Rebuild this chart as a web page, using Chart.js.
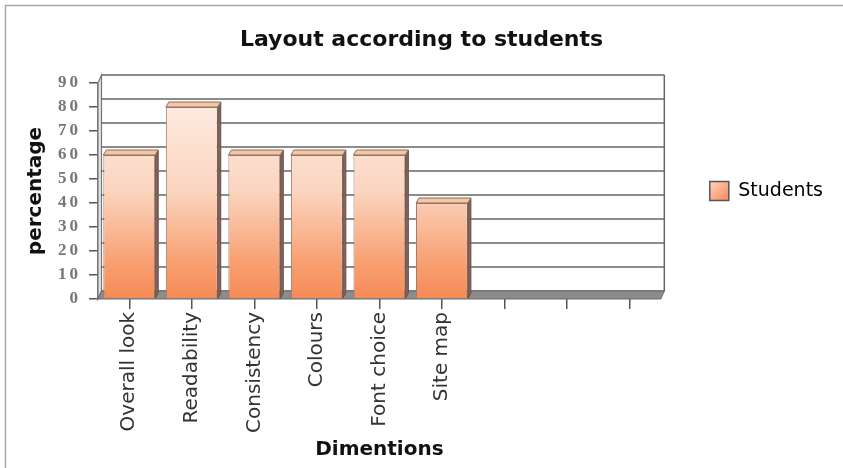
<!DOCTYPE html>
<html>
<head>
<meta charset="utf-8">
<title>Layout according to students</title>
<script src="https://cdn.jsdelivr.net/npm/chart.js@4"></script>
<style>
    html, body { margin: 0; padding: 0; background: #fff; }
    #wrap { position: relative; width: 843px; height: 468px; }
</style>
</head>
<body>
<div id="wrap"><canvas id="layoutChart"></canvas></div>
<script>
// Survey data
const dimensions = ['Overall look', 'Readability', 'Consistency', 'Colours', 'Font choice', 'Site map', '', '', ''];
const studentShares = [60, 80, 60, 60, 60, 40, null, null, null];
const seriesName = 'Students';
const yMin = 0;
const yMax = 90;
const yStep = 10;

// fake 3D offsets: back wall and bar depth
const WALL = [3.5, -8];
const BAR = [3, -5];

const colors = {
    barTop: '#fdf0e8',
    barMid: '#fbd5c0',
    barLow: '#f8a174',
    barBottom: '#f58a55',
    barEdge: '#9c7d70',
    barSide: '#82635a',
    barCap: '#f7c7a4',
    grid: '#666666',
    floor: '#8c8c8c',
    frame: '#a8a8a8'
};

function barFill(ctx) {
    const area = ctx.chart.chartArea;
    if (!area) return colors.barMid;
    const g = ctx.chart.ctx.createLinearGradient(0, area.top, 0, area.bottom);
    g.addColorStop(0, colors.barTop);
    g.addColorStop(0.5, colors.barMid);
    g.addColorStop(0.82, colors.barLow);
    g.addColorStop(1, colors.barBottom);
    return g;
}

function poly(ctx, pts, fill, stroke, lw) {
    ctx.beginPath();
    ctx.moveTo(pts[0][0], pts[0][1]);
    for (let i = 1; i < pts.length; i++) ctx.lineTo(pts[i][0], pts[i][1]);
    ctx.closePath();
    if (fill) { ctx.fillStyle = fill; ctx.fill(); }
    if (stroke) { ctx.strokeStyle = stroke; ctx.lineWidth = lw || 1; ctx.stroke(); }
}

const chart3d = {
    id: 'chart3d',
    beforeDraw(chart) {
        const ctx = chart.ctx;
        // thin frame on the top and left of the picture
        ctx.save();
        ctx.strokeStyle = colors.frame;
        ctx.lineWidth = 1.5;
        ctx.beginPath();
        ctx.moveTo(5.5, chart.height);
        ctx.lineTo(5.5, 5.5);
        ctx.lineTo(chart.width, 5.5);
        ctx.stroke();
        ctx.restore();

        // wider spacing for the serif y tick labels
        const y = chart.scales.y;
        if (y && !y._spaced) {
            const drawLabels = y.drawLabels.bind(y);
            y.drawLabels = area => {
                chart.ctx.save();
                chart.ctx.letterSpacing = '3px';
                drawLabels(area);
                chart.ctx.restore();
            };
            y._spaced = true;
        }
    },
    beforeDatasetsDraw(chart) {
        const { ctx, chartArea: a, scales: { y } } = chart;
        const [dx, dy] = WALL;
        ctx.save();

        // left wall
        poly(ctx, [[a.left, a.top], [a.left + dx, a.top + dy], [a.left + dx, a.bottom + dy], [a.left, a.bottom]], '#e4e4e4', '#777', 1.2);

        // back wall grid lines
        ctx.strokeStyle = colors.grid;
        ctx.lineWidth = 1.5;
        y.ticks.forEach(t => {
            const py = y.getPixelForValue(t.value) + dy;
            ctx.beginPath();
            ctx.moveTo(a.left + dx, py);
            ctx.lineTo(a.right + dx, py);
            ctx.stroke();
        });
        // right edge of the back wall
        ctx.beginPath();
        ctx.moveTo(a.right + dx, a.top + dy);
        ctx.lineTo(a.right + dx, a.bottom + dy);
        ctx.stroke();

        // floor
        poly(ctx, [[a.left, a.bottom], [a.left + dx, a.bottom + dy], [a.right + dx, a.bottom + dy], [a.right, a.bottom]], colors.floor, '#6a6a6a', 1);
        ctx.restore();
    },
    afterDatasetsDraw(chart) {
        const ctx = chart.ctx;
        const [dx, dy] = BAR;
        const meta = chart.getDatasetMeta(0);
        ctx.save();
        meta.data.forEach((bar, i) => {
            if (studentShares[i] == null) return;
            const { x, y, width, base } = bar.getProps(['x', 'y', 'width', 'base'], true);
            const l = x - width / 2;
            const r = x + width / 2;
            // side face
            poly(ctx, [[r, y], [r + dx, y + dy], [r + dx, base + dy], [r, base]], colors.barSide, '#6b5048', 1);
            // top face
            poly(ctx, [[l, y], [l + dx, y + dy], [r + dx, y + dy], [r, y]], colors.barCap, '#8a6d60', 1);
        });
        ctx.restore();
    }
};

document.addEventListener('DOMContentLoaded', () => {
    const ctx = document.getElementById('layoutChart').getContext('2d');

    const legendFill = ctx.createLinearGradient(709, 176, 728, 195);
    legendFill.addColorStop(0, '#fde3d3');
    legendFill.addColorStop(1, '#f69566');

    new Chart(ctx, {
        type: 'bar',
        data: {
            labels: dimensions,
            datasets: [{
                label: seriesName,
                data: studentShares,
                backgroundColor: barFill,
                borderColor: colors.barEdge,
                borderWidth: 1,
                categoryPercentage: 1,
                barPercentage: 0.83
            }]
        },
        options: {
            responsive: true,
            maintainAspectRatio: false,
            animation: false,
            layout: { padding: { left: 10, right: 10, top: 0, bottom: 0 } },
            plugins: {
                title: {
                    display: true,
                    text: 'Layout according to students',
                    color: '#111',
                    font: { family: "'DejaVu Sans', sans-serif", size: 22, weight: 'bold' },
                    padding: { top: 27, bottom: 29.6 }
                },
                legend: {
                    position: 'right',
                    fullSize: false,
                    labels: {
                        boxWidth: 19,
                        boxHeight: 19,
                        padding: 49,
                        color: '#444',
                        font: { family: "'DejaVu Sans', sans-serif", size: 19 },
                        generateLabels: () => [{
                            text: seriesName,
                            fillStyle: legendFill,
                            strokeStyle: '#555',
                            lineWidth: 1.5,
                            hidden: false,
                            datasetIndex: 0
                        }]
                    }
                },
                tooltip: { enabled: false }
            },
            scales: {
                x: {
                    afterFit: scale => { scale.height = 169; },
                    grid: { offset: false, drawOnChartArea: false, drawTicks: true, tickLength: 10, color: '#555', lineWidth: 1.5 },
                    border: { display: false },
                    ticks: {
                        autoSkip: false,
                        maxRotation: 90,
                        minRotation: 90,
                        padding: 3,
                        color: '#333',
                        font: { family: "'DejaVu Sans', sans-serif", size: 20 }
                    },
                    title: {
                        display: true,
                        text: 'Dimentions',
                        color: '#111',
                        font: { family: "'DejaVu Sans', sans-serif", size: 20, weight: 'bold' },
                        padding: { top: 0, bottom: 6 }
                    }
                },
                y: {
                    min: yMin,
                    max: yMax,
                    afterFit: scale => { scale.width = 88; },
                    grid: { drawOnChartArea: false, drawTicks: true, tickLength: 9, color: '#555', lineWidth: 1.5 },
                    border: { display: true, color: '#777', width: 1.5 },
                    ticks: {
                        stepSize: yStep,
                        padding: 8,
                        color: '#777',
                        font: { family: "'Liberation Serif', serif", size: 17, weight: 'bold' }
                    },
                    title: {
                        display: true,
                        text: 'percentage',
                        color: '#111',
                        font: { family: "'DejaVu Sans', sans-serif", size: 20, weight: 'bold' },
                        padding: { top: 14, bottom: 0 }
                    }
                }
            }
        },
        plugins: [chart3d]
    });
});
</script>
</body>
</html>
